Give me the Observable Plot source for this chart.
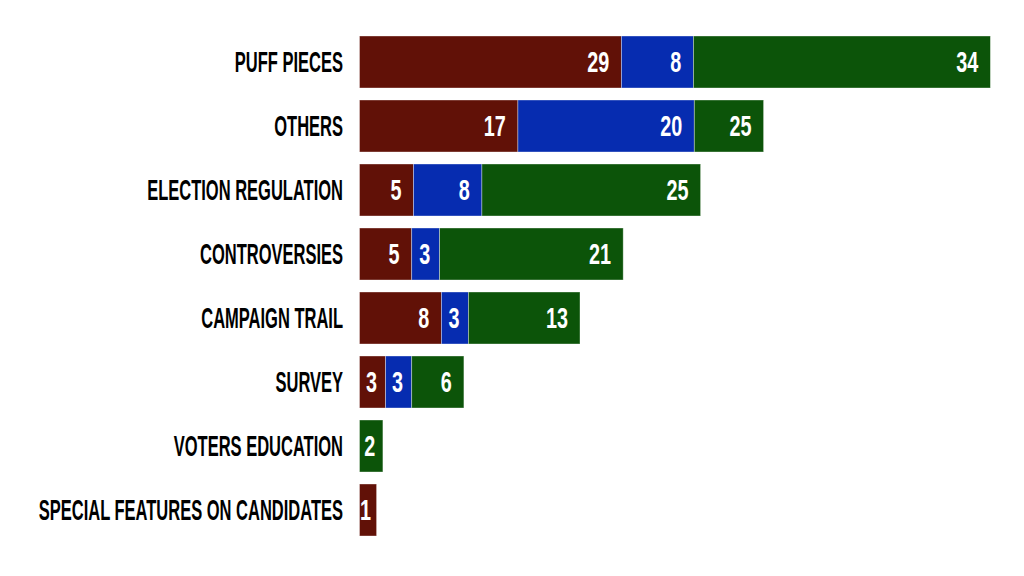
<!DOCTYPE html>
<html>
<head>
<meta charset="utf-8">
<script src="https://cdn.jsdelivr.net/npm/d3@7"></script>
<script src="https://cdn.jsdelivr.net/npm/@observablehq/plot@0.6"></script>
<style>
  html, body { margin: 0; padding: 0; background: #fff; }
  svg { display: block; }
</style>
</head>
<body>
<div id="chart"></div>
<script>
// Categories (top to bottom)
const categories = [
  "PUFF PIECES",
  "OTHERS",
  "ELECTION REGULATION",
  "CONTROVERSIES",
  "CAMPAIGN TRAIL",
  "SURVEY",
  "VOTERS EDUCATION",
  "SPECIAL FEATURES ON CANDIDATES"
];
const series = ["Series 1", "Series 2", "Series 3"];
const colors = ["#611107", "#062cb0", "#0c5409"];

// Numbers printed on the segments
const redCounts   = [29, 17, 5, 5, 8, 3, 0, 1];
const blueCounts  = [8, 20, 8, 3, 3, 3, 0, 0];
const greenCounts = [34, 25, 25, 21, 13, 6, 2, 0];

// Segment lengths as drawn in the picture (same units as counts)
const redLengths   = [29.1, 17.6, 6.0, 5.8, 9.1, 2.9, 0, 1.9];
const blueLengths  = [8.0, 19.6, 7.6, 3.1, 3.0, 2.9, 0, 0];
const greenLengths = [33.0, 7.7, 24.3, 20.4, 12.4, 5.8, 2.6, 0];

const counts = [redCounts, blueCounts, greenCounts];
const lengths = [redLengths, blueLengths, greenLengths];

const rows = [];
categories.forEach((c, i) => {
  let start = 0;
  series.forEach((s, j) => {
    const len = lengths[j][i];
    if (len > 0) {
      const end = start + len;
      rows.push({
        category: c, series: s, x1: start, x2: end, count: counts[j][i],
        labelX: end - Math.min(1.4, len * 0.35)
      });
      start = end;
    }
  });
});

try {
  const chart = Plot.plot({
    width: 1024,
    height: 576,
    marginTop: 23.4,
    marginBottom: 27.4,
    marginLeft: 359.5,
    marginRight: 34.5,
    style: { fontFamily: "Liberation Sans, Arial, sans-serif", fontSize: "30px", fontWeight: "bold", background: "#fff" },
    x: { domain: [0, 70], axis: null },
    y: { domain: categories, padding: 0.18, label: null, axis: null },
    color: { domain: series, range: colors },
    marks: [
      Plot.barX(rows, { x1: "x1", x2: "x2", y: "category", fill: "series", stroke: "white", strokeWidth: 0.8, strokeOpacity: 0.45 }),
      Plot.text(rows, { x: "labelX", y: "category", text: d => String(d.count), fill: "white", textAnchor: "end", fontSize: 30, fontWeight: "bold" }),
      Plot.axisY({ tickSize: 0, tickPadding: 17, fontSize: 30, fontWeight: "bold", fill: "#000", label: null })
    ]
  });
  document.getElementById("chart").appendChild(chart);

  // Condense the glyphs horizontally (about each text's own anchor) to mimic the narrow display face
  const condense = (sel, f) => chart.querySelectorAll(sel).forEach(t => {
    const tr = t.getAttribute("transform") || "";
    t.setAttribute("transform", tr + ` scale(${f},1)`);
  });
  condense('g[aria-label="y-axis tick label"] text', 0.55);
  condense('g[aria-label="text"] text', 0.66);
} catch (e) {
  document.body.insertAdjacentHTML("beforeend", "<pre>" + e + "</pre>");
}
</script>
</body>
</html>
